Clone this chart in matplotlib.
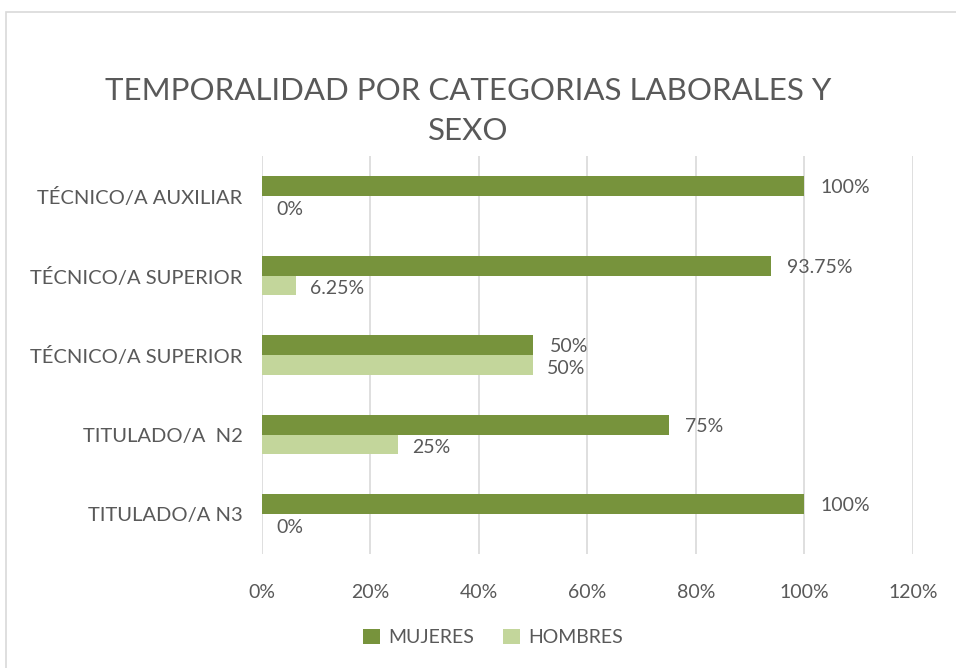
import numpy as np
import matplotlib.pyplot as plt
from matplotlib.patches import Rectangle

categorias = ["TÉCNICO/A AUXILIAR", "TÉCNICO/A SUPERIOR", "TÉCNICO/A SUPERIOR",
              "TITULADO/A  N2", "TITULADO/A N3"]
mujeres = [100, 93.75, 50, 75, 100]
hombres = [0, 6.25, 50, 25, 0]
etiq_m = ["100%", "93.75%", "50%", "75%", "100%"]
etiq_h = ["0%", "6.25%", "50%", "25%", "0%"]
ticks_x = [0, 20, 40, 60, 80, 100, 120]

gris = '#595959'
verde = '#77933C'
verde_claro = '#C3D69B'
plt.rcParams['font.family'] = ['Lato', 'DejaVu Sans']

fig = plt.figure(figsize=(9.56, 6.68), dpi=100)
ax = fig.add_axes([0.274, 0.171, 0.681, 0.595])

# marco del gráfico
fig.patches.append(Rectangle((6/956, -0.1), 1.2, 1 - 12/668 + 0.1, transform=fig.transFigure,
                             fill=False, edgecolor='#D9D9D9', linewidth=1.2))

y = np.arange(len(categorias))
h = 0.25
ax.barh(y - h/2, mujeres, height=h, color=verde, label='MUJERES', zorder=3)
ax.barh(y + h/2, hombres, height=h, color=verde_claro, label='HOMBRES', zorder=3)

for i in range(len(categorias)):
    ax.text(mujeres[i] + 3, y[i] - h/2 + 0.02, etiq_m[i], va='center', ha='left', fontsize=14, color=gris)
    ax.text(hombres[i] + 2.6, y[i] + h/2 + 0.04, etiq_h[i], va='center', ha='left', fontsize=14, color=gris)

ax.set_xlim(0, 120)
ax.set_ylim(len(categorias) - 0.5, -0.5)
ax.set_xticks(ticks_x)
ax.set_xticklabels([f"{t}%" for t in ticks_x], fontsize=14, color=gris)
ax.set_yticks(y)
ax.set_yticklabels(categorias, fontsize=14.5, color=gris)
ax.tick_params(axis='x', length=0, pad=22)
ax.tick_params(axis='y', length=0, pad=14)
ax.grid(axis='x', color='#D9D9D9', linewidth=1.2, zorder=0)
for s in ax.spines.values():
    s.set_visible(False)

fig.text(0.49, 0.834, "TEMPORALIDAD POR CATEGORIAS LABORALES Y\nSEXO", ha='center', va='center',
         fontsize=22.5, color=gris, linespacing=1.5)

fig.legend(loc='center', bbox_to_anchor=(0.516, 0.046), ncol=2, frameon=False, fontsize=14,
           labelcolor=gris, handlelength=0.85, handleheight=0.85, columnspacing=1.5, handletextpad=0.45)

fig.savefig('out.png', dpi=100)
